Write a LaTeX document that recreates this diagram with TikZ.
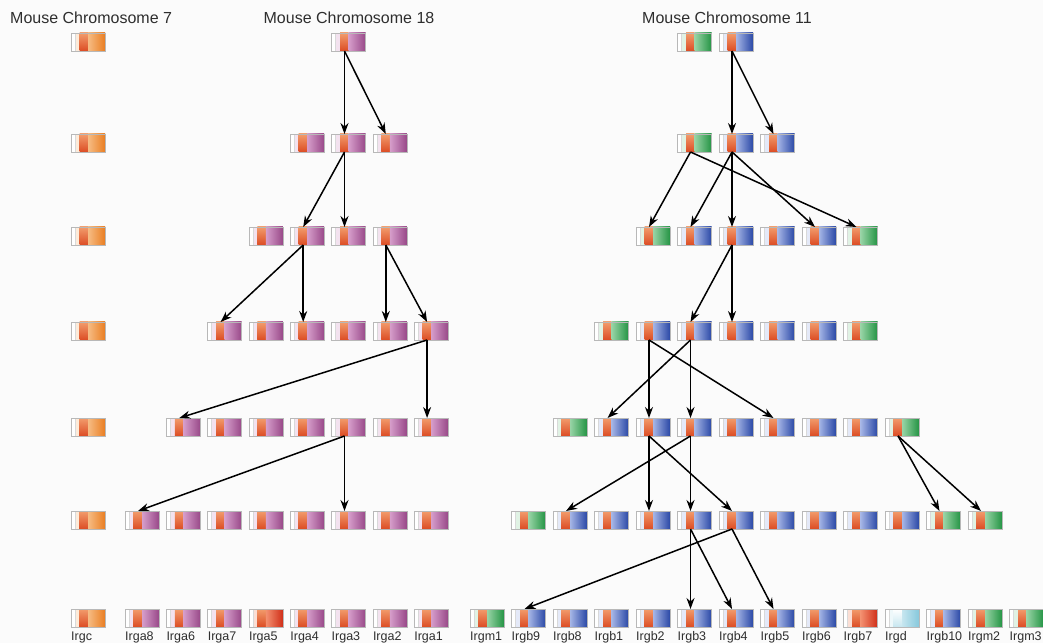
\documentclass[tikz,border=0pt]{standalone}
\usepackage{fontspec}
\setmainfont{Liberation Sans}
\usetikzlibrary{arrows.meta}
\definecolor{purL}{HTML}{D69ECB}
\definecolor{purD}{HTML}{984888}
\definecolor{bluL}{HTML}{A6B6E6}
\definecolor{bluD}{HTML}{2A48A6}
\definecolor{grnL}{HTML}{98D4A6}
\definecolor{grnD}{HTML}{249444}
\definecolor{ornL}{HTML}{F6BC84}
\definecolor{ornD}{HTML}{EA7E22}
\definecolor{redL}{HTML}{F39070}
\definecolor{redD}{HTML}{D02E18}
\definecolor{cyaL}{HTML}{C6E6EF}
\definecolor{cyaD}{HTML}{86C8DC}
\definecolor{orT}{HTML}{F29C6C}
\definecolor{orM}{HTML}{EE7A4A}
\definecolor{orB}{HTML}{DC4C24}
\definecolor{cyM}{HTML}{DDEEF3}
\definecolor{txt}{HTML}{2E2E2E}
\definecolor{bg}{HTML}{FBFBFB}
\tikzset{
 x=1pt, y=1pt,
 gb/.style n args={5}{draw=black!28, line width=0.5pt, minimum width=34pt, minimum height=18pt,
  inner sep=0pt, outer sep=0pt,
  path picture={
   \coordinate (q) at (path picture bounding box.south west);
   \fill[#1!30] (q) rectangle ([xshift=8.5pt,yshift=18pt]q);
   \fill[white] (q) rectangle ([xshift=4pt,yshift=18pt]q);
   \fill[#4] ([xshift=8.5pt]q) rectangle ([xshift=17pt,yshift=18pt]q);
   \shade[top color=#3, middle color=#4, bottom color=#5] ([xshift=8.5pt]q) rectangle ([xshift=17pt,yshift=18pt]q);
   \shade[left color=#1, right color=#2] ([xshift=17pt]q) rectangle ([xshift=34pt,yshift=18pt]q);
   \draw[black!15, line width=0.4pt] ([xshift=4pt]q) -- ([xshift=4pt,yshift=18pt]q);
  }},
 P/.style={gb={purL}{purD}{orT}{orM}{orB}},
 B/.style={gb={bluL}{bluD}{orT}{orM}{orB}},
 G/.style={gb={grnL}{grnD}{orT}{orM}{orB}},
 O/.style={gb={ornL}{ornD}{orT}{orM}{orB}},
 R/.style={gb={redL}{redD}{orT}{orM}{orB}},
 C/.style={gb={cyaL}{cyaD}{white}{cyM}{cyaL}},
 ttl/.style={font=\fontsize{16}{19}\selectfont, text=txt, inner sep=0pt},
 lab/.style={anchor=base west, font=\fontsize{12.5}{14}\selectfont, text=txt, inner sep=0pt},
 arr/.style={-{Stealth[length=11pt,width=8pt]}, line width=1.5pt, black},
}
\begin{document}
\begin{tikzpicture}
\fill[bg] (0,0) rectangle (1043,643);
\useasboundingbox (0,0) rectangle (1043,643);

% titles
\node[ttl, anchor=west] (t7) at (10,625) {Mouse Chromosome 7};
\node[ttl] (t18) at (349,625) {Mouse Chromosome 18};
\node[ttl] (t11) at (727,625) {Mouse Chromosome 11};

% chromosome 7
\foreach \r/\y in {0/601,1/500,2/407,3/312,4/216,5/123,6/25}
  \node[O] (c7-\r) at (88,\y) {};
\node[lab] (l-irgc) at (71,3) {Irgc};

% chromosome 18
\foreach \r/\y/\cs in {0/601/{5},1/500/{4,5,6},2/407/{3,4,5,6},3/312/{2,3,4,5,6,7},
                        4/216/{1,2,3,4,5,6,7},5/123/{0,1,2,3,4,5,6,7}}
  {\foreach \c in \cs {\node[P] (a-\r-\c) at ({142+41.3*\c},\y) {};}}
\foreach \c/\t in {0/8,1/6,2/7,4/4,5/3,6/2,7/1}
  {\node[P] (a-6-\c) at ({142+41.3*\c},25) {};
   \node[lab] (la-\c) at ({142+41.3*\c-17},3) {Irga\t};}
\node[R] (a-6-3) at ({142+41.3*3},25) {};
\node[lab] (la-3) at ({142+41.3*3-17},3) {Irga5};

% chromosome 11
\foreach \r/\y/\cs in {0/601/{6},1/500/{6,7},2/407/{5,6,7,8},3/312/{4,5,6,7,8},
                        4/216/{3,4,5,6,7,8,9},5/123/{2,3,4,5,6,7,8,9,10}}
  {\foreach \c in \cs {\node[B] (b-\r-\c) at ({487+41.5*\c},\y) {};}}
\foreach \r/\y/\c in {0/601/5,1/500/5,2/407/4,2/407/9,3/312/3,3/312/9,4/216/2,4/216/10,5/123/1,5/123/11,5/123/12}
  {\node[G] (b-\r-\c) at ({487+41.5*\c},\y) {};}
% chromosome 11 bottom row
\foreach \c/\t/\s in {0/Irgm1/G,1/Irgb9/B,2/Irgb8/B,3/Irgb1/B,4/Irgb2/B,5/Irgb3/B,6/Irgb4/B,
                      7/Irgb5/B,8/Irgb6/B,9/Irgb7/R,10/Irgd/C,11/Irgb10/B,12/Irgm2/G,13/Irgm3/G}
  {\node[\s] (b-6-\c) at ({487+41.5*\c},25) {};
   \node[lab] (lb-\c) at ({487+41.5*\c-17},3) {\t};}

% arrows
\foreach \s/\e in {a-0-5/a-1-5,a-0-5/a-1-6,a-1-5/a-2-4,a-1-5/a-2-5,
                   a-2-4/a-3-2,a-2-4/a-3-4,a-2-6/a-3-6,a-2-6/a-3-7,
                   a-3-7/a-4-1,a-3-7/a-4-7,a-4-5/a-5-0,a-4-5/a-5-5,
                   b-0-6/b-1-6,b-0-6/b-1-7,b-1-5/b-2-4,b-1-5/b-2-9,
                   b-1-6/b-2-5,b-1-6/b-2-6,b-1-6/b-2-8,b-2-6/b-3-5,b-2-6/b-3-6,
                   b-3-4/b-4-4,b-3-4/b-4-7,b-3-5/b-4-3,b-3-5/b-4-5,
                   b-4-4/b-5-4,b-4-4/b-5-6,b-4-5/b-5-5,b-4-5/b-5-2,
                   b-4-10/b-5-11,b-4-10/b-5-12,
                   b-5-5/b-6-5,b-5-5/b-6-6,b-5-6/b-6-1,b-5-6/b-6-7}
  {\draw[arr] ([xshift=-4pt]\s.south) -- ([xshift=-4pt]\e.north);}
\end{tikzpicture}
\end{document}
